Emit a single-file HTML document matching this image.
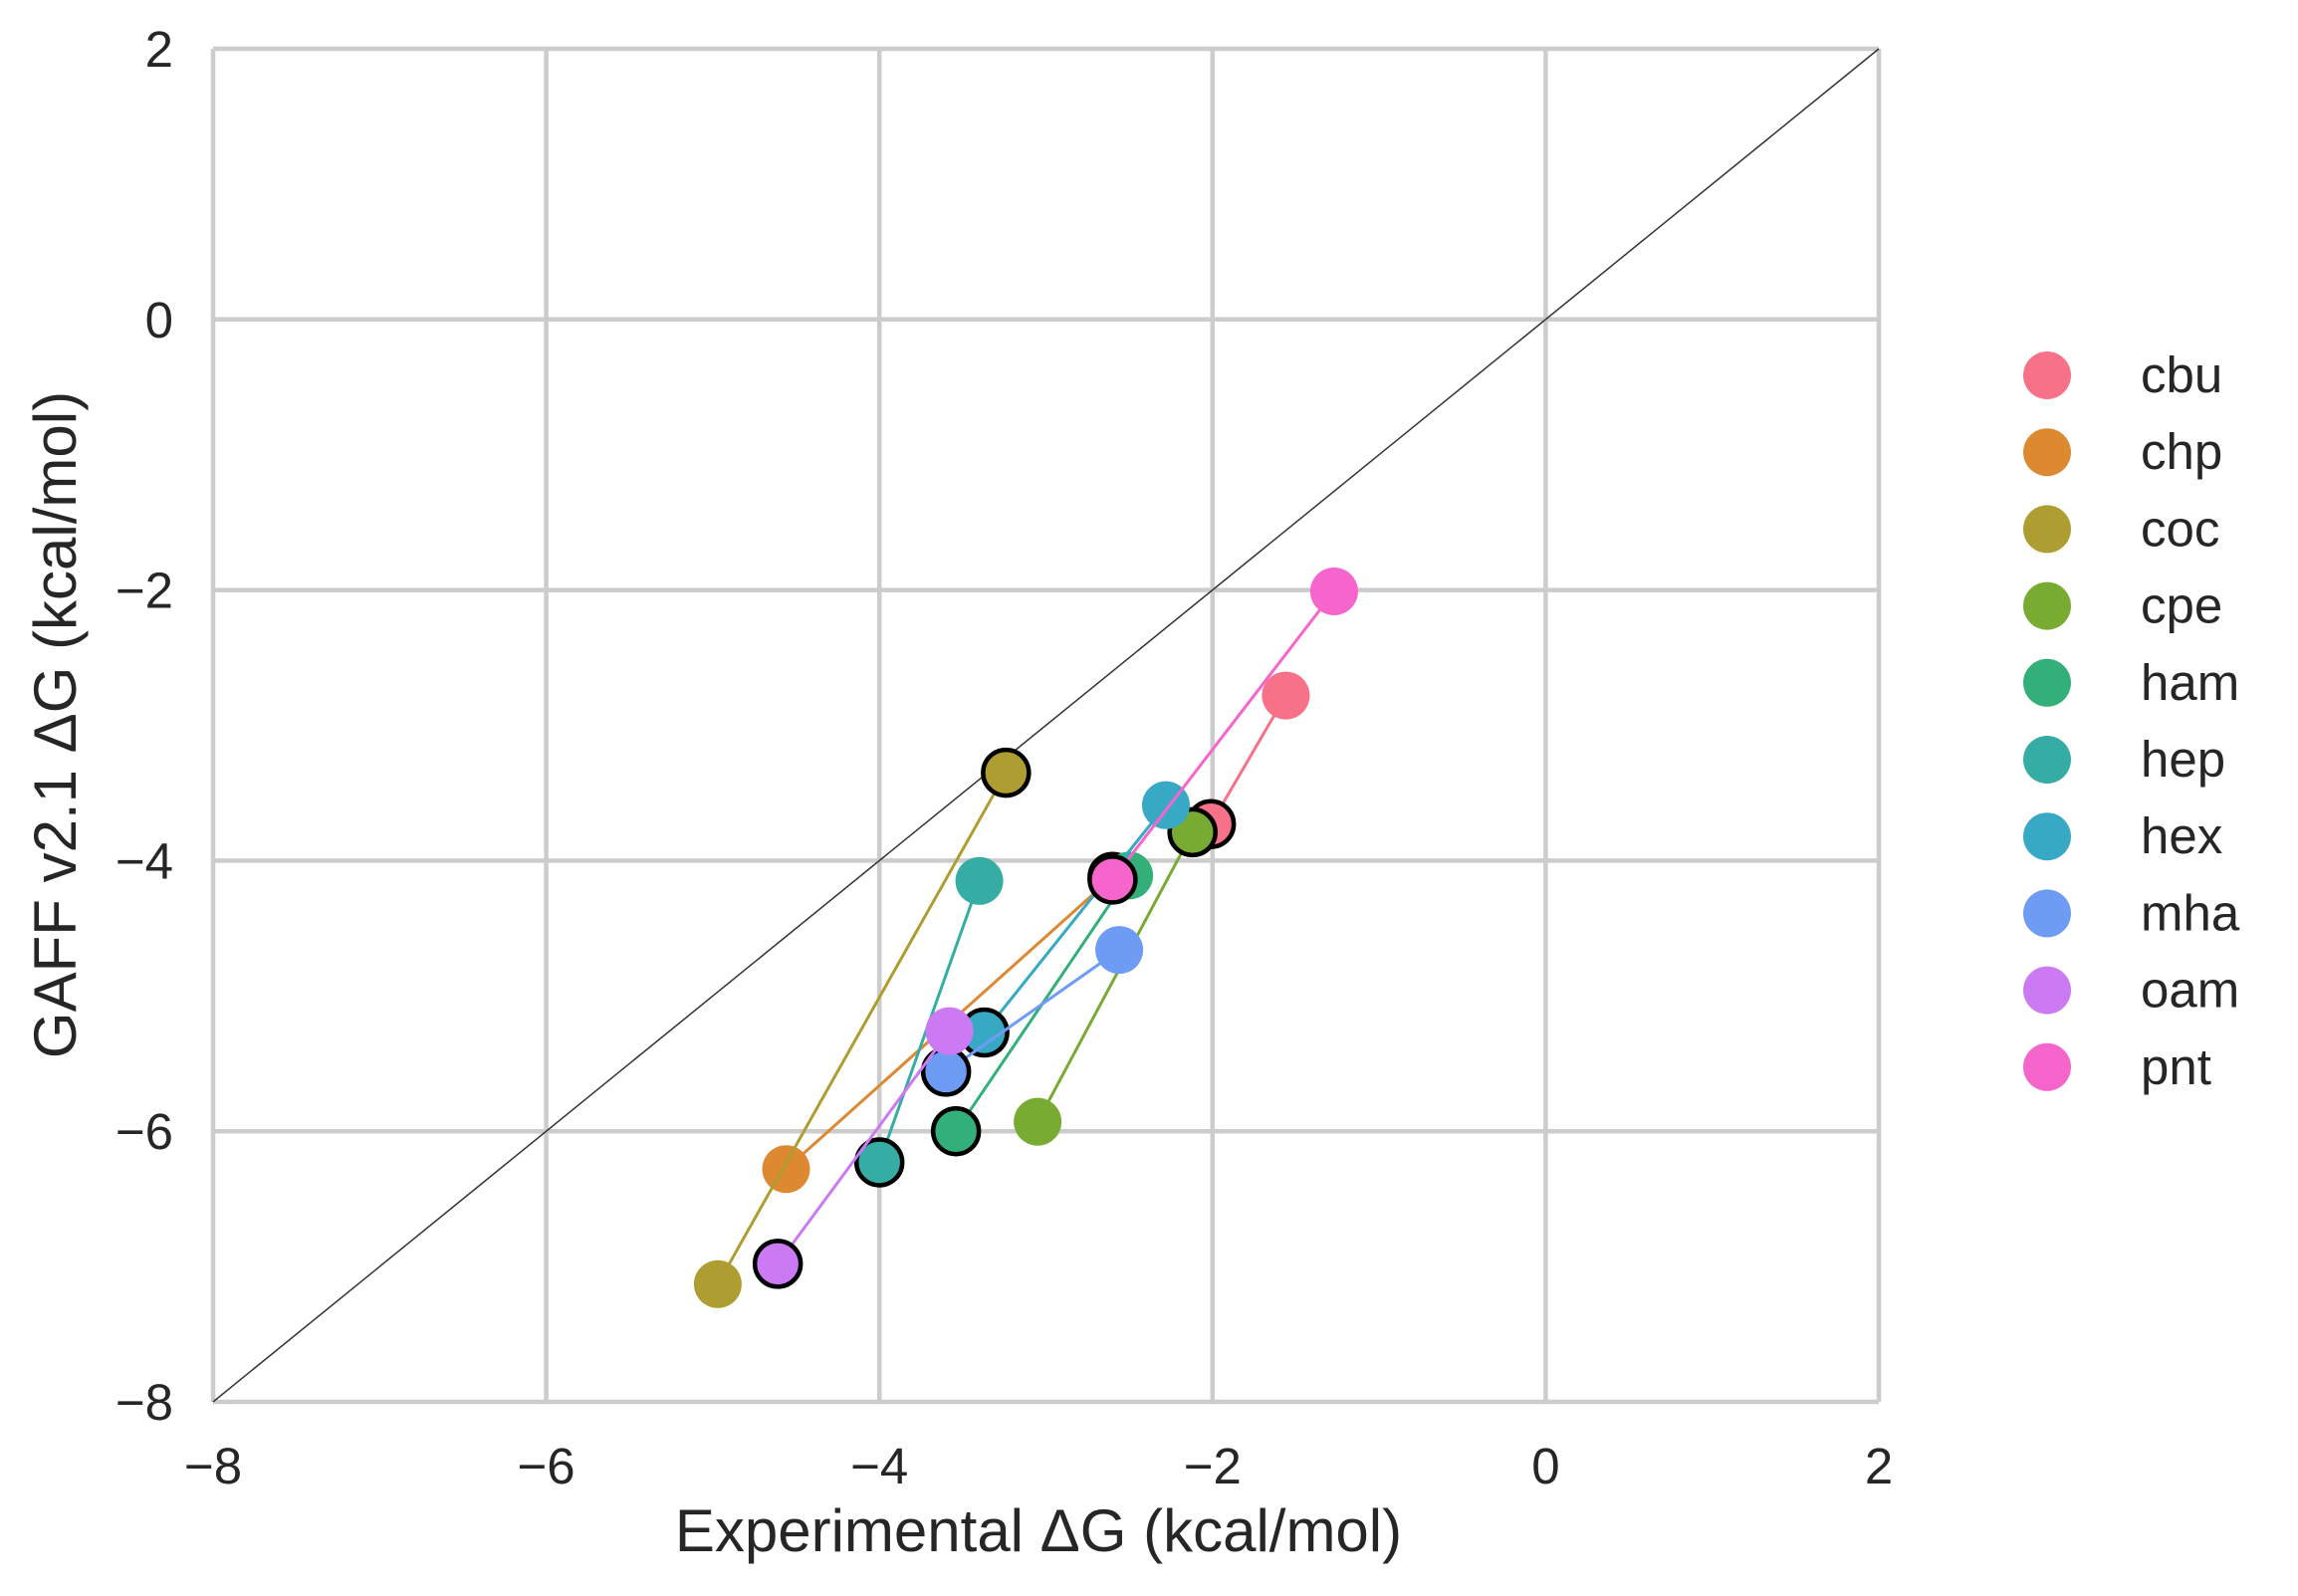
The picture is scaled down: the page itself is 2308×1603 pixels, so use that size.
<!DOCTYPE html>
<html><head><meta charset="utf-8"><style>
html,body{margin:0;padding:0;background:#fff;}
svg text{font-family:"Liberation Sans",sans-serif;fill:#262626;}
</style></head><body>
<svg id="chart" width="2308" height="1598" viewBox="0 0 2308 1598" xmlns="http://www.w3.org/2000/svg">
<g id="grid"></g>
<g id="marks"></g>
<g id="legend"></g>
<text x="1043" y="1558" font-size="60" text-anchor="middle">Experimental ΔG (kcal/mol)</text>
<text x="0" y="0" font-size="60" text-anchor="middle" transform="translate(76,728) rotate(-90)">GAFF v2.1 ΔG (kcal/mol)</text>
</svg>
<script>
const categories=["cbu","chp","coc","cpe","ham","hep","hex","mha","oam","pnt"];
const colors=["#f77189","#dc8932","#ae9d31","#77ab31","#33b07a","#36ada4","#38a9c5","#6e9bf4","#cc7af4","#f565cc"];
const openExp=[-1.56,-4.56,-4.97,-3.05,-2.5,-3.40,-2.28,-2.56,-3.58,-1.27];
const openCalc=[-2.78,-6.28,-7.13,-5.93,-4.11,-4.15,-3.59,-4.66,-5.26,-2.01];
const boldExp=[-2.01,-2.6,-3.24,-2.12,-3.54,-4.0,-3.37,-3.60,-4.61,-2.6];
const boldCalc=[-3.73,-4.12,-3.35,-3.79,-6.0,-6.23,-5.27,-5.56,-6.98,-4.14];
const ticks=[-8,-6,-4,-2,0,2];
const tickLabels=["\u22128","\u22126","\u22124","\u22122","0","2"];
const L=214,R=1887,T=49,B=1408;
const sx=v=>L+(v+8)/10*(R-L);
const sy=v=>B-(v+8)/10*(B-T);
const NS="http://www.w3.org/2000/svg";
function mk(tag,attrs,parent){const e=document.createElementNS(NS,tag);for(const k in attrs)e.setAttribute(k,attrs[k]);parent.appendChild(e);return e;}
const grid=document.getElementById('grid'),marks=document.getElementById('marks'),legend=document.getElementById('legend');
ticks.forEach((t,i)=>{
  let g=mk('line',{x1:sx(t),x2:sx(t),y1:T,y2:B,stroke:'#cccccc','stroke-width':4.5},grid);
  
  
  g=mk('line',{x1:L,x2:R,y1:sy(t),y2:sy(t),stroke:'#cccccc','stroke-width':4.5},grid);
  
  
  let tx=mk('text',{x:sx(t),y:1490,'font-size':51,'text-anchor':'middle'},grid);tx.textContent=tickLabels[i];
  
  
  tx=mk('text',{x:174,y:sy(t)+18,'font-size':51,'text-anchor':'end'},grid);tx.textContent=tickLabels[i];
  
  
});
let d=mk('line',{x1:sx(-8),y1:sy(-8),x2:sx(2),y2:sy(2),stroke:'#333','stroke-width':1.5},marks);


categories.forEach((c,i)=>{
  let ln=mk('line',{x1:sx(openExp[i]),y1:sy(openCalc[i]),x2:sx(boldExp[i]),y2:sy(boldCalc[i]),stroke:colors[i],'stroke-width':3},marks);
  
  
  let p=mk('circle',{cx:sx(openExp[i]),cy:sy(openCalc[i]),r:24,fill:colors[i]},marks);
  
  
  p=mk('circle',{cx:sx(boldExp[i]),cy:sy(boldCalc[i]),r:23,fill:colors[i],stroke:'#000','stroke-width':4.5},marks);
  
  
  const y=377+77.2*i;
  let lc=mk('circle',{cx:2056,cy:y,r:24,fill:colors[i]},legend);
  
  
  let lt=mk('text',{x:2150,y:y+17,'font-size':51},legend);lt.textContent=c;
  
  
});
</script>
</body></html>
